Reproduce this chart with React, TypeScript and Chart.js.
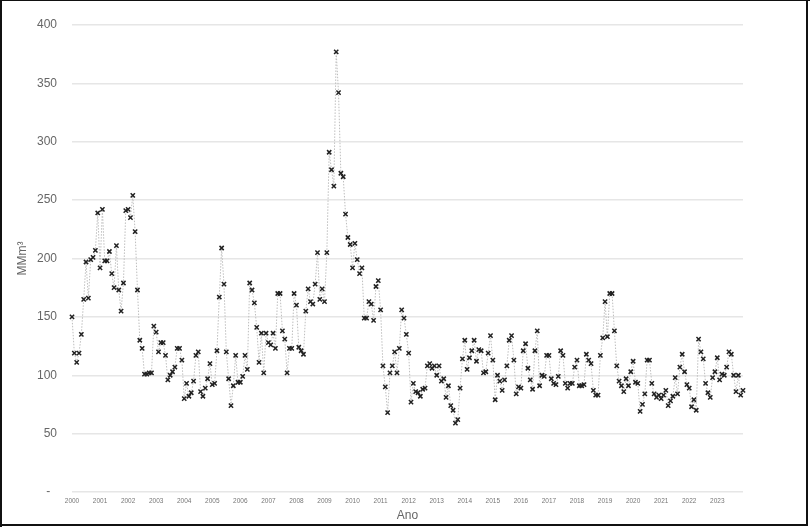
import React, { useEffect, useRef } from "react";
import { Chart, registerables } from "chart.js";

Chart.register(...registerables);

// Monthly values (MMm³), January..December
const y2000 = [150, 119, 111, 119, 135, 165, 197, 166, 199, 201, 207, 239];
const y2001 = [192, 242, 198, 198, 206, 187, 175, 211, 173, 155, 179, 241];
const y2002 = [242, 235, 254, 223, 173, 130, 123, 101, 101, 102, 102, 142];
const y2003 = [137, 120, 128, 128, 117, 96, 100, 103, 107, 123, 123, 113];
const y2004 = [80, 93, 82, 85, 95, 117, 120, 86, 82, 89, 97, 110];
const y2005 = [92, 93, 121, 167, 209, 178, 120, 97, 74, 91, 117, 94];
const y2006 = [94, 99, 117, 105, 179, 173, 162, 141, 111, 136, 102, 136];
const y2007 = [128, 126, 136, 123, 170, 170, 138, 131, 102, 123, 123, 170];
const y2008 = [160, 124, 121, 118, 155, 174, 163, 161, 178, 205, 165, 174];
const y2009 = [163, 205, 291, 276, 262, 377, 342, 273, 270, 238, 218, 212];
const y2010 = [192, 213, 199, 187, 192, 149, 149, 163, 161, 147, 176, 181];
const y2011 = [156, 108, 90, 68, 102, 108, 120, 102, 123, 156, 149, 135];
const y2012 = [119, 77, 93, 86, 85, 82, 88, 89, 108, 110, 106, 108];
const y2013 = [100, 108, 95, 97, 81, 91, 74, 70, 59, 62, 89, 114];
const y2014 = [130, 105, 115, 121, 130, 112, 122, 121, 102, 103, 119, 134];
const y2015 = [113, 79, 100, 95, 87, 96, 108, 130, 134, 113, 84, 90];
const y2016 = [89, 121, 127, 106, 96, 88, 121, 138, 91, 100, 99, 117];
const y2017 = [117, 97, 93, 92, 99, 121, 117, 93, 89, 93, 93, 107];
const y2018 = [113, 91, 91, 92, 118, 113, 110, 87, 83, 83, 117, 132];
const y2019 = [163, 133, 170, 170, 138, 108, 95, 91, 86, 97, 91, 103];
const y2020 = [112, 94, 93, 69, 75, 84, 113, 113, 93, 84, 81, 83];
const y2021 = [80, 83, 87, 74, 78, 82, 98, 84, 107, 118, 103, 92];
const y2022 = [89, 73, 79, 70, 131, 120, 114, 93, 85, 81, 98, 103];
const y2023 = [115, 96, 101, 100, 107, 120, 118, 100, 86, 100, 83, 87];

const years = [
  "2000", "2001", "2002", "2003", "2004", "2005", "2006", "2007",
  "2008", "2009", "2010", "2011", "2012", "2013", "2014", "2015",
  "2016", "2017", "2018", "2019", "2020", "2021", "2022", "2023",
];
const yearValues = [
  y2000, y2001, y2002, y2003, y2004, y2005, y2006, y2007,
  y2008, y2009, y2010, y2011, y2012, y2013, y2014, y2015,
  y2016, y2017, y2018, y2019, y2020, y2021, y2022, y2023,
];
const months = ["01", "02", "03", "04", "05", "06", "07", "08", "09", "10", "11", "12"];
const yTickValues = [0, 50, 100, 150, 200, 250, 300, 350, 400];
const zeroLabel = "-  ";

const FONT = "'Liberation Sans', Arial, Helvetica, sans-serif";

const framePlugin = {
  id: "frame",
  afterDraw(chart: any) {
    const { ctx, height, width } = chart;
    ctx.save();
    ctx.fillStyle = "#111";
    ctx.fillRect(0, 0, 2, height);
    ctx.fillRect(0, 0, width, 1);
    ctx.fillRect(806, 0, 2, 526);
    ctx.fillRect(0, 524, 808, 2);
    ctx.restore();
  },
};

export default function App() {
  const ref = useRef<HTMLCanvasElement | null>(null);

  useEffect(() => {
    const labels: string[] = [];
    const values: number[] = [];
    years.forEach((yr, k) => {
      months.forEach((m, j) => {
        labels.push(yr + "-" + m);
        values.push(yearValues[k][j]);
      });
    });

    const chart = new Chart(ref.current as HTMLCanvasElement, {
      type: "line",
      data: {
        labels,
        datasets: [
          {
            data: values,
            borderColor: "#bdbdbd",
            borderWidth: 1,
            borderDash: [1.5, 1.5],
            pointStyle: "crossRot",
            pointRadius: 3,
            pointBorderColor: "#222",
            pointBorderWidth: 1.5,
            pointBackgroundColor: "#222",
            tension: 0,
            fill: false,
          },
        ],
      },
      options: {
        responsive: false,
        animation: false,
        layout: { padding: { left: 0, top: 25, right: 67, bottom: 0 } },
        plugins: { legend: { display: false }, tooltip: { enabled: false } },
        scales: {
          x: {
            type: "category",
            offset: false,
            grid: { display: false, drawTicks: false },
            border: { display: false },
            ticks: {
              autoSkip: false,
              maxRotation: 0,
              minRotation: 0,
              padding: 5,
              color: "#777",
              font: { family: FONT, size: 6.5 },
              callback: (_v: any, i: number) => (i % 12 === 0 ? labels[i].slice(0, 4) : null),
            },
            title: {
              display: true,
              text: "Ano",
              color: "#666",
              font: { family: FONT, size: 12 },
              padding: { top: 0, bottom: 4 },
            },
            afterFit: (s: any) => {
              s.height = 35;
            },
          },
          y: {
            min: 0,
            max: 400,
            afterBuildTicks: (s: any) => {
              s.ticks = yTickValues.map((v) => ({ value: v }));
            },
            grid: { color: "#e6e6e6", lineWidth: 1.5, drawTicks: false },
            border: { display: false },
            ticks: {
              padding: 15,
              color: "#666",
              font: { family: FONT, size: 12 },
              callback: (v: any) => (v === 0 ? zeroLabel : String(v)),
            },
            title: {
              display: true,
              text: "MMm³",
              color: "#666",
              font: { family: FONT, size: 12 },
              padding: { top: 15, bottom: 0 },
            },
            afterFit: (s: any) => {
              s.width = 72;
            },
          },
        },
      },
      plugins: [framePlugin],
    });
    return () => chart.destroy();
  }, []);

  return (
    <div style={{ position: "fixed", left: 0, top: 0, width: 810, height: 527, background: "#fff" }}>
      <canvas ref={ref} width={810} height={527} style={{ display: "block" }} />
    </div>
  );
}
